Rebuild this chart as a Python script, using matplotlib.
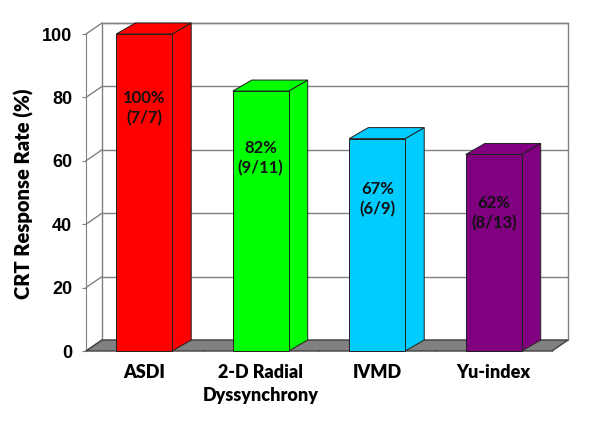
import matplotlib
matplotlib.use("Agg")
import matplotlib.pyplot as plt
from matplotlib.patches import Polygon
import numpy as np

categories = ["ASDI", "2-D Radial\nDyssynchrony", "IVMD", "Yu-index"]
values = [100, 82, 67, 62]
counts = ["7/7", "9/11", "6/9", "8/13"]
colors = ["#FF0000", "#00FF00", "#00CCFF", "#800080"]
yticks = [0, 20, 40, 60, 80, 100]

fig = plt.figure(figsize=(6, 4.25), dpi=100)
L, R, B, T = 86, 552, 351, 34
ax = fig.add_axes([L / 600, 1 - B / 425, (R - L) / 600, (B - T) / 425])
ax.set_xlim(-0.5, 3.5)
ax.set_ylim(0, 100)

# depth offsets (data units)
px_x = 4 / (R - L)
px_y = 100 / (B - T)
wdx, wdy = 16 * px_x, 11 * px_y
bdx, bdy = 19 * px_x, 11 * px_y
grid_c = "#808080"

# back wall
ax.add_patch(Polygon([(-0.5 + wdx, wdy), (3.5 + wdx, wdy), (3.5 + wdx, 100 + wdy),
                      (-0.5 + wdx, 100 + wdy)], closed=True, facecolor="white",
                     edgecolor=grid_c, lw=1.0, zorder=1, clip_on=False))
for yv in yticks[1:]:
    ax.plot([-0.5 + wdx, 3.5 + wdx], [yv + wdy, yv + wdy], color=grid_c, lw=1.0,
            zorder=1, clip_on=False)
# side wall diagonals
for yv in yticks:
    ax.plot([-0.5, -0.5 + wdx], [yv, yv + wdy], color=grid_c, lw=1.0, zorder=1, clip_on=False)

# floor
ax.add_patch(Polygon([(-0.5, 0), (3.5, 0), (3.5 + wdx, wdy), (-0.5 + wdx, wdy)],
                     closed=True, facecolor="#808080", edgecolor="#404040", lw=1.0,
                     zorder=2, clip_on=False))

# bars
x = np.arange(len(categories))
w = 0.48
ax.bar(x, values, width=w, color=colors, edgecolor="#202020", lw=0.7, zorder=5, clip_on=False)
for xi, v, c in zip(x, values, colors):
    side = [(xi + w / 2, 0), (xi + w / 2 + bdx, bdy), (xi + w / 2 + bdx, v + bdy), (xi + w / 2, v)]
    top = [(xi - w / 2, v), (xi + w / 2, v), (xi + w / 2 + bdx, v + bdy), (xi - w / 2 + bdx, v + bdy)]
    ax.add_patch(Polygon(side, closed=True, facecolor=c, edgecolor="#202020", lw=0.7,
                         zorder=4, clip_on=False))
    ax.add_patch(Polygon(top, closed=True, facecolor=c, edgecolor="#202020", lw=0.7,
                         zorder=4, clip_on=False))

# bar labels
for xi, v, cnt in zip(x, values, counts):
    ax.text(xi, v * 0.87 - 10.5, f"{v}%\n({cnt})", ha="center", va="center", fontsize=12,
            family="Lato", fontweight="bold", linespacing=1.3, zorder=6, color="#111111")

# axes styling
for s in ["top", "right", "bottom"]:
    ax.spines[s].set_visible(False)
ax.spines["left"].set_color(grid_c)
ax.spines["left"].set_zorder(1)
ax.set_facecolor("none")
ax.set_yticks(yticks)
ax.set_yticklabels([str(v) for v in yticks], fontsize=13, fontweight="bold",
                   family="Liberation Sans")
ax.tick_params(axis="y", direction="out", length=3, color=grid_c, pad=7)
ax.set_xticks(x)
ax.set_xticklabels(categories, fontsize=13, fontweight="heavy", family="Lato", linespacing=1.5)
ax.tick_params(axis="x", which="major", length=0, pad=9)
ax.set_xticks([0.5, 1.5, 2.5, 3.5], minor=True)
ax.tick_params(axis="x", which="minor", direction="in", length=4, color="#404040", width=1)

fig.text(24 / 600, 1 - 194 / 425, "CRT Response Rate (%)", rotation=90, ha="center",
         va="center", fontsize=14.5, fontweight="heavy", family="Lato")

fig.savefig("out.png", dpi=100)
